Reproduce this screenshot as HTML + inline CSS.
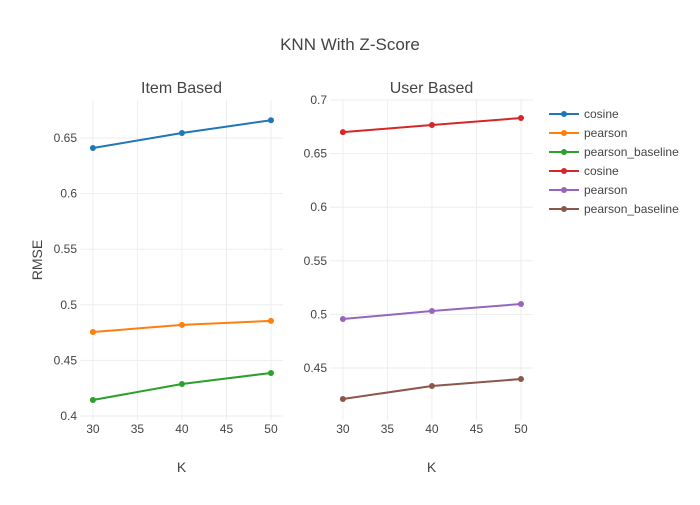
<!DOCTYPE html>
<html><head><meta charset="utf-8"><style>body{margin:0;background:#fff}svg{font-family:"Liberation Sans",sans-serif;fill:#444}</style></head>
<body>
<svg id="c" width="700" height="500">
<text x="350" y="50" text-anchor="middle" font-size="17">KNN With Z-Score</text>
</svg>
<script>
const kValues=[30,40,50];
const itemCosine=[0.641,0.6545,0.666];
const itemPearson=[0.4755,0.482,0.4855];
const itemBaseline=[0.4144,0.4288,0.4387];
const userCosine=[0.670,0.6767,0.6832];
const userPearson=[0.4957,0.5032,0.5097];
const userBaseline=[0.4211,0.4332,0.4397];
const xTicks=[30,35,40,45,50];
const leftYTicks=[0.4,0.45,0.5,0.55,0.6,0.65];
const rightYTicks=[0.45,0.5,0.55,0.6,0.65,0.7];
const ns="http://www.w3.org/2000/svg",svg=document.getElementById('c');
function mk(t,a,p){const e=document.createElementNS(ns,t);for(const k in a)e.setAttribute(k,a[k]);(p||svg).appendChild(e);return e;}
function panel(name,x0,x1,xmin,xmax,ymin,ymax,yTicks,series,title){
 const top=100,bot=420;
 const sx=v=>x0+(v-xmin)/(xmax-xmin)*(x1-x0);
 const sy=v=>bot-(v-ymin)/(ymax-ymin)*(bot-top);
 const g=mk('g',{});
 
 
 xTicks.forEach(t=>{mk('line',{x1:sx(t),x2:sx(t),y1:top,y2:bot,stroke:'#eee'},g);
  const tx=mk('text',{x:sx(t),y:bot+13,'text-anchor':'middle','font-size':12},g);tx.textContent=t;
  });
 yTicks.forEach(t=>{mk('line',{x1:x0,x2:x1,y1:sy(t),y2:sy(t),stroke:'#eee'},g);
  const tx=mk('text',{x:x0-3,y:sy(t)+4,'text-anchor':'end','font-size':12},g);tx.textContent=String(t);
  });
 const tt=mk('text',{x:(x0+x1)/2,y:93,'text-anchor':'middle','font-size':16},g);tt.textContent=title;
 
 const xl=mk('text',{x:(x0+x1)/2,y:472,'text-anchor':'middle','font-size':14},g);xl.textContent='K';
 
 series.forEach(([vals,col,sn])=>{
  const pl=mk('polyline',{points:kValues.map((k,i)=>sx(k)+','+sy(vals[i])).join(' '),fill:'none',stroke:col,'stroke-width':2},g);
  
  kValues.forEach((k,i)=>{const c=mk('circle',{cx:sx(k),cy:sy(vals[i]),r:3,fill:col},g);
   });
 });
}
panel('item-based-panel',80,283,28.55,51.35,0.3964,0.6842,leftYTicks,[[itemCosine,'#1f77b4','item-cosine'],[itemPearson,'#ff7f0e','item-pearson'],[itemBaseline,'#2ca02c','item-pearson-baseline']],'Item Based');
panel('user-based-panel',330,533,28.55,51.35,0.4015,0.7,rightYTicks,[[userCosine,'#d62728','user-cosine'],[userPearson,'#9467bd','user-pearson'],[userBaseline,'#8c564b','user-pearson-baseline']],'User Based');
const yl=mk('text',{x:42,y:260,'text-anchor':'middle','font-size':14,transform:'rotate(-90 42 260)'});yl.textContent='RMSE';

const legendNames=['cosine','pearson','pearson_baseline','cosine','pearson','pearson_baseline'];
const legendColors=['#1f77b4','#ff7f0e','#2ca02c','#d62728','#9467bd','#8c564b'];
legendNames.forEach((n,i)=>{const y=114+i*19;const g=mk('g',{});
 
 mk('line',{x1:549,x2:579,y1:y,y2:y,stroke:legendColors[i],'stroke-width':2},g);
 mk('circle',{cx:564,cy:y,r:3,fill:legendColors[i]},g);
 const t=mk('text',{x:584,y:y+4,'font-size':12},g);t.textContent=n;});
</script>
</body></html>
